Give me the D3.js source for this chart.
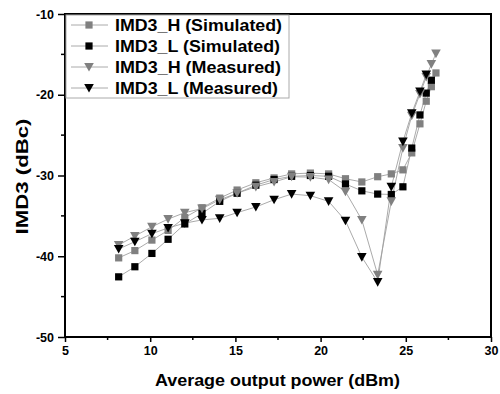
<!DOCTYPE html>
<html><head><meta charset="utf-8">
<script src="https://cdn.jsdelivr.net/npm/d3@7"></script>
<style>body{margin:0;background:#fff}svg{display:block}</style>
</head><body>
<script>
const xPts = [8.15,9.1,10.1,11.05,12.03,13.04,14.08,15.1,16.2,17.27,18.3,19.4,20.47,21.46,22.42,23.35,24.15,24.83,25.35,25.83,26.2,26.5,26.77];
const simH = [-40.2,-39.3,-38.0,-36.8,-35.2,-34.0,-32.8,-31.8,-30.9,-30.3,-29.8,-29.7,-29.8,-30.4,-30.8,-30.15,-29.8,-29.3,-27.2,-23.6,-20.8,-19.0,-17.3];
const simL = [-42.55,-41.3,-39.65,-37.9,-36.0,-34.7,-33.2,-32.2,-31.2,-30.5,-30.1,-30.0,-30.1,-31.05,-31.9,-32.3,-32.35,-31.4,-26.6,-22.5,-19.8,-18.2];
const measH = [-38.6,-37.5,-36.35,-35.4,-34.6,-34.1,-33.0,-32.2,-31.4,-30.8,-30.15,-30.2,-30.5,-32.0,-35.5,-42.3,-33.2,-26.6,-22.6,-19.9,-17.8,-16.2,-14.9];
const measL = [-39.1,-38.2,-37.2,-36.5,-35.9,-35.5,-35.3,-34.6,-33.9,-33.0,-32.3,-32.5,-33.2,-35.6,-40.1,-43.2,-31.4,-25.8,-22.3,-19.6,-17.5];
const seriesNames = ["IMD3_H (Simulated)","IMD3_L (Simulated)","IMD3_H (Measured)","IMD3_L (Measured)"];
const xTicks = [5,10,15,20,25,30];
const yTicks = [-50,-40,-30,-20,-10];

const W=500,H=394;
const m={l:65,r:9,t:14,b:57};
const svg=d3.select("body").append("svg").attr("width",W).attr("height",H);
const x=d3.scaleLinear().domain([5,30]).range([m.l,W-m.r]);
const y=d3.scaleLinear().domain([-50,-10]).range([H-m.b,m.t]);
const font="Arial, 'Liberation Sans', sans-serif";

const series=[
 {name:seriesNames[0],vals:simH,shape:"square",color:"#808080",tl:167},
 {name:seriesNames[1],vals:simL,shape:"square",color:"#000",tl:165},
 {name:seriesNames[2],vals:measH,shape:"tri",color:"#808080",tl:166},
 {name:seriesNames[3],vals:measL,shape:"tri",color:"#000",tl:163}
];
const line=d3.line().x(d=>x(d[0])).y(d=>y(d[1]));
function drawMarker(g,shape,color,cx,cy){
  if(shape==="square"){
    g.append("rect").attr("x",cx-3.6).attr("y",cy-3.6).attr("width",7.2).attr("height",7.2).attr("fill",color);
  } else {
    g.append("path").attr("d",`M${cx-4.8},${cy-4}L${cx+4.8},${cy-4}L${cx},${cy+4.6}Z`).attr("fill",color);
  }
}
const plot=svg.append("g");
series.forEach(s=>{
  const pts=s.vals.map((v,i)=>[xPts[i],v]);
  plot.append("path").attr("d",line(pts)).attr("fill","none").attr("stroke","#a0a0a0").attr("stroke-width",0.9);
});
series.forEach(s=>{
  const g=plot.append("g");
  s.vals.forEach((v,i)=>drawMarker(g,s.shape,s.color,x(xPts[i]),y(v)));
});

// axes
const fmt=d=>String(d);
const xAxis=d3.axisBottom(x).tickValues(xTicks).tickSize(5).tickPadding(4).tickFormat(fmt);
const gx=svg.append("g").attr("transform",`translate(0,${H-m.b})`).call(xAxis);
const yAxis=d3.axisLeft(y).tickValues(yTicks).tickSize(7).tickPadding(4).tickFormat(fmt);
const gy=svg.append("g").attr("transform",`translate(${m.l},0)`).call(yAxis);
[gx,gy].forEach(g=>{
  g.select(".domain").remove();
  g.selectAll(".tick line").attr("stroke","#000").attr("stroke-width",1.5);
  g.selectAll("text").attr("font-family",font).attr("font-weight","bold").attr("font-size",12.5).attr("fill","#000");
});
const xMinor=d3.range(7.5,30,5), yMinor=d3.range(-45,-10,10);
svg.append("g").selectAll("line").data(xMinor).join("line")
 .attr("x1",d=>x(d)).attr("x2",d=>x(d)).attr("y1",H-m.b).attr("y2",H-m.b+3).attr("stroke","#000").attr("stroke-width",1.5);
svg.append("g").selectAll("line").data(yMinor).join("line")
 .attr("y1",d=>y(d)).attr("y2",d=>y(d)).attr("x1",m.l).attr("x2",m.l-4).attr("stroke","#000").attr("stroke-width",1.5);
svg.append("rect").attr("x",m.l).attr("y",m.t).attr("width",W-m.r-m.l).attr("height",H-m.b-m.t)
 .attr("fill","none").attr("stroke","#000").attr("stroke-width",2);

// legend
const lg=svg.append("g");
lg.append("rect").attr("x",m.l+1).attr("y",m.t+1).attr("width",223).attr("height",83).attr("fill","#fff").attr("stroke","#aaa").attr("stroke-width",1);
series.forEach((s,i)=>{
  const cy=m.t+11+i*21;
  lg.append("line").attr("x1",71).attr("x2",108).attr("y1",cy).attr("y2",cy).attr("stroke","#a0a0a0").attr("stroke-width",0.9);
  drawMarker(lg,s.shape,s.color,89,cy);
  lg.append("text").attr("x",115).attr("y",cy+5.5).text(s.name)
   .attr("textLength",s.tl).attr("lengthAdjust","spacingAndGlyphs")
   .attr("font-family",font).attr("font-weight","bold").attr("font-size",16).attr("fill","#000");
});

svg.append("text").attr("x",277.5).attr("y",386).attr("text-anchor","middle").text("Average output power (dBm)")
 .attr("textLength",245).attr("lengthAdjust","spacingAndGlyphs")
 .attr("font-family",font).attr("font-weight","bold").attr("font-size",16).attr("fill","#000");
svg.append("text").attr("transform",`translate(28,176.5) rotate(-90)`).attr("text-anchor","middle").text("IMD3 (dBc)")
 .attr("textLength",116).attr("lengthAdjust","spacingAndGlyphs")
 .attr("font-family",font).attr("font-weight","bold").attr("font-size",16.5).attr("fill","#000");
</script>
</body></html>
